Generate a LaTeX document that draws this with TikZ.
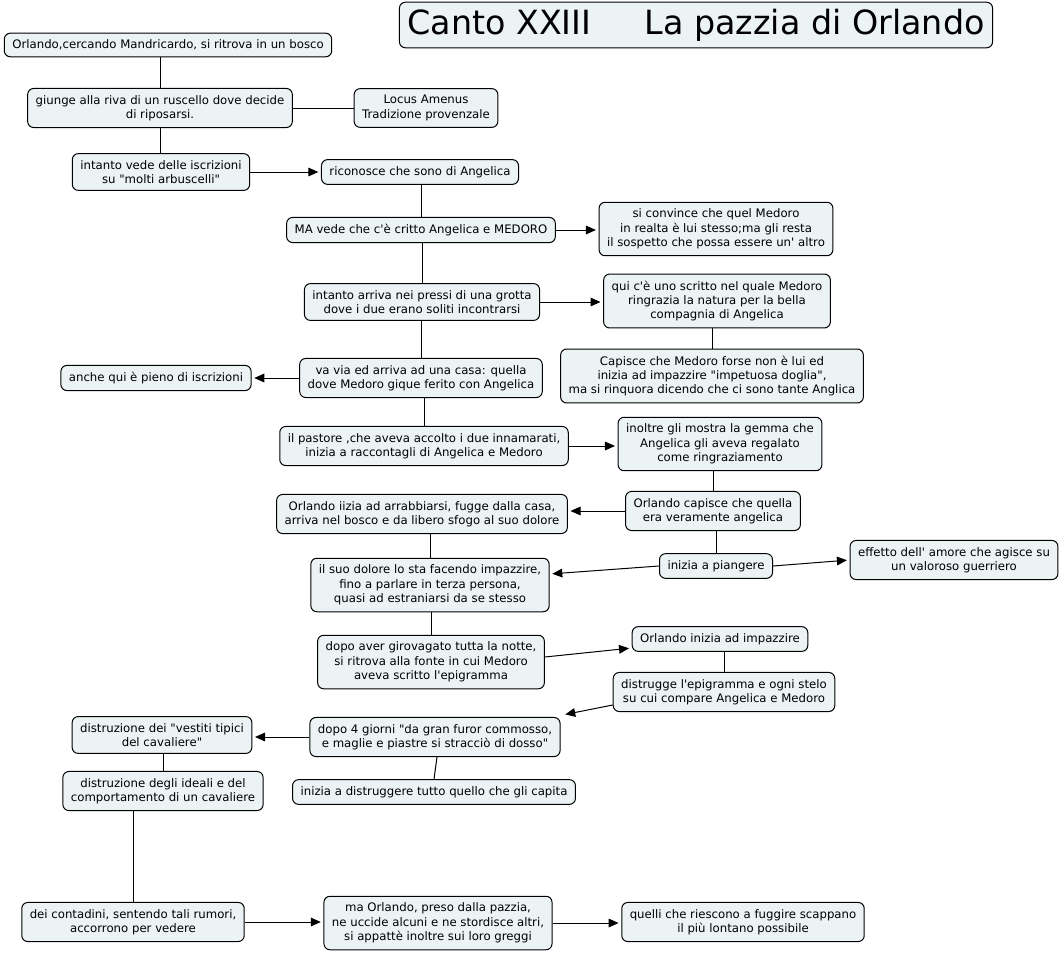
\documentclass[tikz,border=0pt]{standalone}
\usepackage{fontspec}
\setmainfont{DejaVu Sans}[Ligatures=TeXOff]
\usepackage{tikz}
\usetikzlibrary{
  arrows.meta,
  positioning,
  calc
}
\definecolor{conceptcolor}{RGB}{236, 243, 245}
\definecolor{bordercolor}{RGB}{0, 0, 0}
\definecolor{linkcolor}{RGB}{0, 0, 0}
\tikzset{
concepttext/.style={
  align=center,
  font=\fontsize{8.8}{10.8}\selectfont,
  text=black
},
concept/.style={
  draw=bordercolor,
  line width=0.75pt,
  rounded corners=4.5pt,
  fill=conceptcolor,
  inner xsep=6pt,
  inner ysep=5pt,
  concepttext
},
titlebox/.style={
  concept,
  font=\fontsize{25}{28}\selectfont,
  inner xsep=6pt,
  inner ysep=5pt
},
link/.style={
  draw=linkcolor,
  line width=0.75pt
},
arrow/.style={
  link,
  -{Triangle[length=7.5pt,width=6.5pt]},
  shorten >=2pt
}
}

\begin{document}
\begin{tikzpicture}[x=0.75pt,y=-0.75pt]
\useasboundingbox (0,0) rectangle (1063,956);

\node[titlebox] (title) at (696,25) {Canto XXIII\hspace{40pt}La pazzia di Orlando};

% left column, the story
\node[concept] (bosco) at (168,45) {Orlando,cercando Mandricardo, si ritrova in un bosco};
\node[concept] (ruscello) at (160,108) {giunge alla riva di un ruscello dove decide\\di riposarsi.};
\node[concept] (locus) at (426,108) {Locus Amenus\\Tradizione provenzale};
\node[concept] (iscrizioni) at (161,172) {intanto vede delle iscrizioni\\su "molti arbuscelli"};
\node[concept] (riconosce) at (420,172) {riconosce che sono di Angelica};
\node[concept] (medoro) at (421,230) {MA vede che c'è critto Angelica e MEDORO};
\node[concept] (convince) at (716,229) {si convince che quel Medoro\\in realta è lui stesso;ma gli resta\\il sospetto che possa essere un' altro};
\node[concept] (grotta) at (422,302) {intanto arriva nei pressi di una grotta\\dove i due erano soliti incontrarsi};
\node[concept] (scritto) at (717,301) {qui c'è uno scritto nel quale Medoro\\ringrazia la natura per la bella\\compagnia di Angelica};
\node[concept] (capisce) at (712,376) {Capisce che Medoro forse non è lui ed\\inizia ad impazzire "impetuosa doglia",\\ma si rinquora dicendo che ci sono tante Anglica};
\node[concept] (casa) at (421,378) {va via ed arriva ad una casa: quella\\dove Medoro gique ferito con Angelica};
\node[concept] (anche) at (156,378) {anche qui è pieno di iscrizioni};
\node[concept] (pastore) at (424,446) {il pastore ,che aveva accolto i due innamarati,\\inizia a raccontagli di Angelica e Medoro};
\node[concept] (gemma) at (720,444) {inoltre gli mostra la gemma che\\Angelica gli aveva regalato\\come ringraziamento};
\node[concept] (veramente) at (713,511) {Orlando capisce che quella\\era veramente angelica};
\node[concept] (arrabbia) at (422,514) {Orlando iizia ad arrabbiarsi, fugge dalla casa,\\arriva nel bosco e da libero sfogo al suo dolore};
\node[concept] (piange) at (716,566) {inizia a piangere};
\node[concept] (effetto) at (954,560) {effetto dell' amore che agisce su\\un valoroso guerriero};
\node[concept] (dolore) at (430,585) {il suo dolore lo sta facendo impazzire,\\fino a parlare in terza persona,\\quasi ad estraniarsi da se stesso};
\node[concept] (notte) at (431,662) {dopo aver girovagato tutta la notte,\\si ritrova alla fonte in cui Medoro\\aveva scritto l'epigramma};
\node[concept] (impazzire) at (720,639) {Orlando inizia ad impazzire};
\node[concept] (epigramma) at (724,692) {distrugge l'epigramma e ogni stelo\\su cui compare Angelica e Medoro};
\node[concept] (giorni) at (435,737) {dopo 4 giorni "da gran furor commosso,\\e maglie e piastre si stracciò di dosso"};
\node[concept] (vestiti) at (162,735) {distruzione dei "vestiti tipici\\del cavaliere"};
\node[concept] (ideali) at (163,791) {distruzione degli ideali e del\\comportamento di un cavaliere};
\node[concept] (tutto) at (434,792) {inizia a distruggere tutto quello che gli capita};
\node[concept] (contadini) at (133,922) {dei contadini, sentendo tali rumori,\\accorrono per vedere};
\node[concept] (pazzia) at (438,923) {ma Orlando, preso dalla pazzia,\\ne uccide alcuni e ne stordisce altri,\\si appattè inoltre sui loro greggi};
\node[concept] (fuggire) at (743,922) {quelli che riescono a fuggire scappano\\il più lontano possibile};

% plain links
\draw[link] (bosco.south -| ruscello) -- (ruscello.north);
\draw[link] (ruscello.east) -- (ruscello.east -| locus.west);
\draw[link] (ruscello.south) -- (ruscello.south |- iscrizioni.north);
\draw[link] (riconosce.south -| medoro) -- (medoro.north);
\draw[link] (medoro.south -| grotta) -- (grotta.north);
\draw[link] (grotta.south -| casa) -- (casa.north);
\draw[link] (casa.south -| pastore) -- (pastore.north);
\draw[link] (scritto.south -| capisce) -- (capisce.north);
\draw[link] (gemma.south -| veramente) -- (veramente.north);
\draw[link] (veramente.south -| piange) -- (piange.north);
\draw[link] (arrabbia.south -| dolore) -- (dolore.north);
\draw[link] (dolore.south -| notte) -- (notte.north);
\draw[link] (impazzire.south -| epigramma) -- (epigramma.north);
\draw[link] ($(giorni.south)+(2,0)$) -- (tutto.north);
\draw[link] (vestiti.south -| ideali) -- (ideali.north);
\draw[link] (ideali.south -| contadini) -- (contadini.north);

% arrows
\draw[arrow] (iscrizioni.east) -- (iscrizioni.east -| riconosce.west);
\draw[arrow] (medoro.east) -- (medoro.east -| convince.west);
\draw[arrow] (grotta.east) -- (grotta.east -| scritto.west);
\draw[arrow] (casa.west) -- (casa.west -| anche.east);
\draw[arrow] (pastore.east) -- (pastore.east -| gemma.west);
\draw[arrow] (veramente.west) -- (veramente.west -| arrabbia.east);
\draw[arrow] (piange.west) -- ($(dolore.east)+(0,-11)$);
\draw[arrow] (piange.east) -- (effetto.west);
\draw[arrow] ($(notte.east)+(0,-5)$) -- ($(impazzire.west)+(0,9)$);
\draw[arrow] ($(epigramma.west)+(0,13)$) -- ($(giorni.north east)+(2,-2)$);
\draw[arrow] (giorni.west) -- (giorni.west -| vestiti.east);
\draw[arrow] (contadini.east) -- (contadini.east -| pazzia.west);
\draw[arrow] (pazzia.east) -- (pazzia.east -| fuggire.west);
\end{tikzpicture}
\end{document}
